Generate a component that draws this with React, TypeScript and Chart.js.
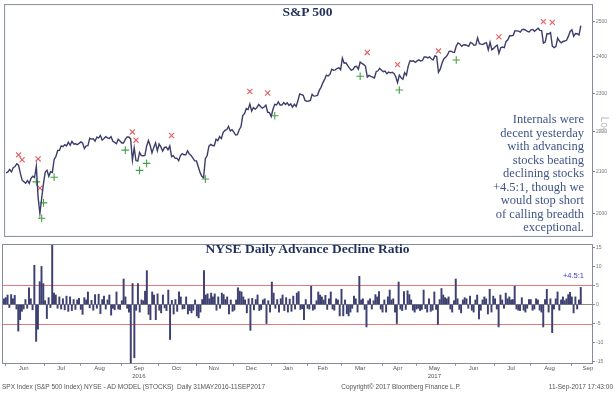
import React, { useEffect, useRef } from "react";
import { Chart, registerables } from "chart.js";

Chart.register(...registerables);

// ---------------- S&P 500 daily closes (one array per month) ----------------
const spxMay16 = [2096.95];
const spxJun16 = [2099.33, 2105.26, 2099.13, 2109.41, 2112.13, 2119.12, 2115.48, 2096.07, 2079.06, 2075.32, 2071.5, 2077.99, 2071.22, 2083.25, 2088.9, 2085.45, 2113.32, 2037.41, 2000.54, 2036.09, 2070.77, 2098.86];
const spxJul16 = [2102.95, 2088.55, 2099.73, 2097.9, 2129.9, 2137.16, 2152.14, 2152.43, 2163.75, 2161.74, 2166.89, 2163.78, 2173.02, 2165.17, 2175.03, 2168.48, 2169.18, 2166.58, 2170.06, 2173.6];
const spxAug16 = [2170.84, 2157.03, 2163.79, 2164.25, 2182.87, 2180.89, 2181.74, 2175.49, 2185.79, 2184.05, 2190.15, 2178.15, 2182.22, 2187.02, 2183.87, 2182.64, 2186.9, 2175.44, 2172.47, 2169.04, 2180.38, 2176.12, 2170.95];
const spxSep16 = [2170.86, 2179.98, 2186.48, 2186.16, 2181.3, 2127.81, 2159.04, 2127.02, 2125.77, 2147.26, 2139.16, 2139.12, 2139.76, 2163.12, 2177.18, 2164.69, 2146.1, 2159.93, 2171.37, 2151.13, 2168.27];
const spxOct16 = [2161.2, 2150.49, 2159.73, 2160.77, 2153.74, 2163.66, 2136.73, 2139.18, 2132.55, 2132.98, 2126.5, 2139.6, 2144.29, 2141.34, 2141.16, 2151.33, 2143.16, 2139.43, 2133.04, 2126.41, 2126.15];
const spxNov16 = [2111.72, 2097.94, 2088.66, 2085.18, 2131.52, 2139.56, 2163.26, 2167.48, 2164.45, 2164.2, 2180.39, 2176.94, 2187.12, 2181.9, 2198.18, 2202.94, 2204.72, 2213.35, 2201.72, 2204.66, 2198.81];
const spxDec16 = [2191.08, 2191.95, 2204.71, 2212.23, 2241.35, 2246.19, 2259.53, 2256.96, 2271.72, 2253.28, 2262.03, 2258.07, 2262.53, 2270.76, 2265.18, 2260.96, 2263.79, 2268.88, 2249.92, 2249.26, 2238.83];
const spxJan17 = [2257.83, 2270.75, 2269.0, 2276.98, 2268.9, 2268.9, 2275.32, 2270.44, 2274.64, 2267.89, 2271.89, 2263.69, 2271.31, 2265.2, 2280.07, 2298.37, 2296.68, 2294.69, 2280.9, 2278.87];
const spxFeb17 = [2279.55, 2280.85, 2297.42, 2292.56, 2293.08, 2294.67, 2307.87, 2316.1, 2328.25, 2337.58, 2349.25, 2347.22, 2351.16, 2365.38, 2362.82, 2363.81, 2367.34, 2369.75, 2363.64];
const spxMar17 = [2395.96, 2381.92, 2383.12, 2375.31, 2368.39, 2362.98, 2364.87, 2372.6, 2373.47, 2365.45, 2385.26, 2381.38, 2378.25, 2373.47, 2344.02, 2348.45, 2345.96, 2343.98, 2341.59, 2358.57, 2361.13, 2368.06, 2362.72];
const spxApr17 = [2358.84, 2360.16, 2352.95, 2357.49, 2355.54, 2357.16, 2353.78, 2344.93, 2328.95, 2349.01, 2342.19, 2338.17, 2355.84, 2348.69, 2374.15, 2388.61, 2387.45, 2388.77, 2384.2];
const spxMay17 = [2388.33, 2391.17, 2388.13, 2389.52, 2399.29, 2399.38, 2396.92, 2399.63, 2394.44, 2390.9, 2402.32, 2400.67, 2357.03, 2365.72, 2381.73, 2394.02, 2398.42, 2404.39, 2415.07, 2415.82, 2412.91, 2411.8];
const spxJun17 = [2430.06, 2439.07, 2436.1, 2429.33, 2433.14, 2433.79, 2431.77, 2429.39, 2440.35, 2437.92, 2432.46, 2433.15, 2453.46, 2437.03, 2435.61, 2434.5, 2438.3, 2439.07, 2419.38, 2440.69, 2419.7, 2423.41];
const spxJul17 = [2429.01, 2432.54, 2409.75, 2425.18, 2427.43, 2425.53, 2443.25, 2447.83, 2459.27, 2459.14, 2460.61, 2473.83, 2473.45, 2472.54, 2469.91, 2477.13, 2477.83, 2475.42, 2472.1, 2470.3];
const spxAug17 = [2476.35, 2477.57, 2472.16, 2476.83, 2480.91, 2474.92, 2474.02, 2438.21, 2441.32, 2465.84, 2464.61, 2468.11, 2430.01, 2425.55, 2428.37, 2452.51, 2444.04, 2438.97, 2443.05, 2444.24, 2446.3, 2457.59, 2471.65];
const spxSep17 = [2476.55, 2457.85, 2465.54, 2465.1, 2461.43, 2488.11];

// ---------------- NYSE advance / decline ratio (one array per month) ----------------
const adMay16 = [1.5];
const adJun16 = [1.8, 2.5, -0.8, 2.6, 1.5, 2.4, -1.2, -7.0, -4.0, -1.8, -1.2, 1.3, -1.0, 4.4, 1.5, -1.4, 10.3, -9.7, -6.5, 6.0, 10.0, 5.5];
const adJul16 = [1.0, -3.7, 1.8, -0.8, 17, 3.0, 2.5, -1.0, 2.0, -1.2, 1.5, -1.4, 2.2, -1.8, 2.0, -1.6, 1.3, -1.3, 1.2, 1.6];
const adAug16 = [-1.3, -2.6, 1.8, 1.2, 3.3, -0.9, 1.1, -1.5, 2.6, -1.0, 2.7, -2.4, 1.3, 2.2, -1.2, 1.2, 2.5, -2.8, -1.0, -1.4, 3.3, -1.2, -1.3];
const adSep16 = [1.0, 6.7, 2.0, -1.0, -2.0, -16, 5.5, -14, -1.5, 5.5, -2.0, 1.2, 1.0, 3.5, 8.9, -2.6, -4.0, 3.3, 2.5, -4.0, 2.8];
const adOct16 = [-1.5, -2.2, 2.5, -0.9, -1.6, 3.8, -9.2, 1.1, -2.5, 1.3, -1.8, 3.3, 2.0, -1.2, -1.1, 2.0, -2.5, -1.6, -2.2, -1.5, 1.2];
const adNov16 = [-3.0, -3.5, -2.0, 1.3, 8.9, 2.5, 2.8, 1.5, 3.0, 2.0, 2.8, -1.5, 2.0, -1.0, 3.0, 2.6, 1.3, 2.0, -2.5, 1.2, -1.8];
const adDec16 = [-1.5, 1.2, 4.4, 3.5, 3.3, 2.0, 1.2, -2.2, 1.5, -6.8, 1.6, -1.4, 1.3, 2.5, -1.6, -1.3, 1.2, 1.5, -5.0, 1.0, -2.0];
const adJan17 = [5.9, 3.0, -1.0, 1.3, -2.0, 1.5, 2.5, -1.6, 1.8, -2.0, 1.4, -1.8, 2.2, -1.2, 3.0, 3.4, -1.3, -1.1, -4.0, 1.3];
const adFeb17 = [-1.0, -1.2, 4.8, -1.5, -1.2, 1.0, 3.3, 2.5, 2.0, 1.2, 2.4, -1.3, 1.5, 3.3, -1.2, -1.5, 1.5, 1.2, -3.0];
const adMar17 = [4.0, -3.0, 1.2, -2.4, -3.0, -2.0, -1.0, 2.2, 1.5, -2.0, 7.4, 1.2, 1.5, -1.3, -5.9, 1.0, 1.5, -1.2, 1.0, 2.6, 2.0, 3.4, -1.2];
const adApr17 = [-2.0, 1.2, -2.0, 2.0, 3.8, 1.2, 1.5, -2.0, -5.0, 5.9, -1.2, -1.6, 3.4, -1.3, 3.6, 2.6, 1.2, -1.5, -2.0];
const adMay17 = [-1.2, -1.0, -1.6, -1.3, 3.8, -1.1, -2.0, 1.5, -1.8, -1.5, 3.3, -1.3, -5.2, 1.3, 4.2, 2.5, 1.8, 1.5, 2.0, -1.2, -2.0, 1.0];
const adJun17 = [6.7, 1.5, -1.3, -2.2, 1.2, 1.8, 1.5, -1.0, 2.2, -1.5, -2.0, 1.2, 2.5, -3.8, -1.5, 1.2, 2.0, 1.5, -2.5, 4.0, -2.0, 2.2];
const adJul17 = [1.5, -1.2, -5.9, 2.5, 1.2, -1.0, 3.0, 1.5, 2.0, 1.2, 1.3, 4.8, -1.2, -1.5, -1.6, 1.8, -1.5, -2.0, -1.0, 1.3];
const adAug17 = [1.3, -1.5, -1.2, 1.5, 1.2, -1.5, -2.0, -5.9, 1.3, 4.0, -2.0, 1.5, -7.4, -1.2, 1.5, 3.3, -1.5, 1.2, 2.0, 1.0, 1.5, 2.6, 3.2];
const adSep17 = [2.0, -2.2, 2.0, -1.2, 1.2, 4.5];

// ---------------- signal markers (trading-day index, price) ----------------
const redXIdx = [7, 9, 18, 19, 71, 73, 93, 137, 147, 203, 220, 243, 277, 302, 307];
const redXVal = [2141, 2129, 2131, 2060, 2199, 2178, 2190, 2305, 2301, 2412, 2378, 2416, 2456, 2500, 2498];
const greenIdx = [17, 20, 21, 27, 67, 75, 79, 112, 151, 199, 221, 253];
const greenVal = [2075, 1989, 2025, 2086, 2153, 2103, 2120, 2082, 2241, 2346, 2309, 2391];

// ---------------- axes ----------------
const monthLabels = ["Jun", "Jul", "Aug", "Sep", "Oct", "Nov", "Dec", "Jan", "Feb", "Mar", "Apr", "May", "Jun", "Jul", "Aug", "Sep"];
const yearLabels = ["", "", "", "2016", "", "", "", "", "", "", "", "2017", "", "", "", ""];
const sessionsSep17 = 20;
const spxTicks = [2000, 2100, 2200, 2300, 2400, 2500];
const adTicks = [-15, -10, -5, 0, 5, 10, 15];
const adBands = [5, -5];
const spxRange = [1948.6, 2548.6];
const adRange = [-15.38, 15.64];
const dayRange = [-0.56, 329.3];

const spxMonths = [spxMay16, spxJun16, spxJul16, spxAug16, spxSep16, spxOct16, spxNov16, spxDec16, spxJan17, spxFeb17, spxMar17, spxApr17, spxMay17, spxJun17, spxJul17, spxAug17, spxSep17];
const adMonths = [adMay16, adJun16, adJul16, adAug16, adSep16, adOct16, adNov16, adDec16, adJan17, adFeb17, adMar17, adApr17, adMay17, adJun17, adJul17, adAug17, adSep17];

const spxClose = spxMonths.flat();
const adRatio = adMonths.flat();
const monthStart: number[] = [];
{
  let n = 0;
  for (const m of spxMonths) {
    monthStart.push(n);
    n += m.length;
  }
}
const labelStarts = monthStart.slice(1);
const labelEnds = monthStart.slice(2).concat([monthStart[monthStart.length - 1] + sessionsSep17]);
const labelPos = labelStarts.map((s, k) => (s + labelEnds[k]) / 2 - 1);

const FRAME = "#858b9e";

const framePlugin = {
  id: "frame",
  afterDraw(chart: any) {
    const { ctx, chartArea: a } = chart;
    ctx.save();
    ctx.strokeStyle = FRAME;
    ctx.lineWidth = 1;
    ctx.strokeRect(a.left - 0.5, a.top - 0.5, a.right - a.left + 1, a.bottom - a.top + 1);
    ctx.restore();
  },
};

const bandsPlugin = {
  id: "bands",
  beforeDatasetsDraw(chart: any) {
    const { ctx, chartArea: a, scales } = chart;
    ctx.save();
    ctx.lineWidth = 1;
    const y0 = Math.round(scales.y.getPixelForValue(0)) + 0.5;
    ctx.strokeStyle = "#8a8a8a";
    ctx.beginPath();
    ctx.moveTo(a.left, y0);
    ctx.lineTo(a.right, y0);
    ctx.stroke();
    ctx.strokeStyle = "#e57a7a";
    for (const b of adBands) {
      const y = Math.round(scales.y.getPixelForValue(b)) + 0.5;
      ctx.beginPath();
      ctx.moveTo(a.left, y);
      ctx.lineTo(a.right, y);
      ctx.stroke();
    }
    ctx.restore();
  },
  afterDraw(chart: any) {
    const { ctx, chartArea: a, scales } = chart;
    ctx.save();
    ctx.strokeStyle = "#999";
    ctx.lineWidth = 1;
    for (const s of labelStarts) {
      const x = Math.round(scales.x.getPixelForValue(s - 0.5)) + 0.5;
      ctx.beginPath();
      ctx.moveTo(x, a.bottom);
      ctx.lineTo(x, a.bottom + 3);
      ctx.stroke();
    }
    ctx.restore();
  },
};

const tickFont = { size: 5, family: "Liberation Sans" };

export default function App() {
  const topRef = useRef<HTMLCanvasElement>(null);
  const botRef = useRef<HTMLCanvasElement>(null);

  useEffect(() => {
    const top = new Chart(topRef.current as HTMLCanvasElement, {
      type: "line",
      data: {
        datasets: [
          {
            data: spxClose.map((v, i) => ({ x: i, y: v })),
            borderColor: "#3b3d6a",
            borderWidth: 1.4,
            pointRadius: 0,
            tension: 0,
          },
          {
            data: redXIdx.map((x, i) => ({ x, y: redXVal[i] })),
            showLine: false,
            pointStyle: "crossRot",
            pointRadius: 3.6,
            pointBorderColor: "#e35d5d",
            pointBorderWidth: 1.1,
            borderColor: "#e35d5d",
          },
          {
            data: greenIdx.map((x, i) => ({ x, y: greenVal[i] })),
            showLine: false,
            pointStyle: "cross",
            pointRadius: 3.8,
            pointBorderColor: "#45a045",
            pointBorderWidth: 1.1,
            borderColor: "#45a045",
          },
        ],
      } as any,
      options: {
        responsive: false,
        animation: false,
        events: [],
        layout: { padding: { left: 3, top: 3, right: 0, bottom: 1 } },
        plugins: { legend: { display: false }, tooltip: { enabled: false } },
        scales: {
          x: { type: "linear", min: dayRange[0], max: dayRange[1], display: false },
          y: {
            type: "logarithmic",
            position: "right",
            min: spxRange[0],
            max: spxRange[1],
            afterBuildTicks: (s: any) => {
              s.ticks = spxTicks.map((v) => ({ value: v }));
            },
            afterFit: (s: any) => {
              s.width = 23;
            },
            ticks: { callback: (v: any) => String(v), font: tickFont, color: "#777", padding: 1, autoSkip: false },
            grid: { drawOnChartArea: false, drawTicks: true, tickLength: 3, color: "#888" },
            border: { display: false },
          },
        },
      } as any,
      plugins: [framePlugin],
    });

    const bot = new Chart(botRef.current as HTMLCanvasElement, {
      type: "bar",
      data: {
        datasets: [
          {
            data: adRatio.map((v, i) => ({ x: i, y: v })),
            backgroundColor: "#3d4070",
            borderWidth: 0,
            barThickness: 1.3,
          },
        ],
      } as any,
      options: {
        responsive: false,
        animation: false,
        events: [],
        layout: { padding: { left: 3, top: 1, right: 0, bottom: 0 } },
        plugins: { legend: { display: false }, tooltip: { enabled: false } },
        scales: {
          x: {
            type: "linear",
            min: dayRange[0],
            max: dayRange[1],
            offset: false,
            afterBuildTicks: (s: any) => {
              s.ticks = labelPos.map((v) => ({ value: v }));
            },
            afterFit: (s: any) => {
              s.height = 32;
            },
            ticks: {
              autoSkip: false,
              maxRotation: 0,
              padding: 2,
              color: "#555",
              font: { size: 6, family: "Liberation Sans", lineHeight: 1.25 },
              callback: (_v: any, i: number) => (yearLabels[i] ? [monthLabels[i], yearLabels[i]] : monthLabels[i]),
            },
            grid: { display: false, drawTicks: false, offset: false },
            border: { display: false },
          },
          y: {
            position: "right",
            min: adRange[0],
            max: adRange[1],
            afterBuildTicks: (s: any) => {
              s.ticks = adTicks.map((v) => ({ value: v }));
            },
            afterFit: (s: any) => {
              s.width = 23;
            },
            ticks: { callback: (v: any) => String(v), font: tickFont, color: "#777", padding: 1, autoSkip: false },
            grid: { drawOnChartArea: false, drawTicks: true, tickLength: 3, color: "#888" },
            border: { display: false },
          },
        },
      } as any,
      plugins: [bandsPlugin, framePlugin],
    });

    return () => {
      top.destroy();
      bot.destroy();
    };
  }, []);

  const abs: React.CSSProperties = { position: "absolute", pointerEvents: "none", whiteSpace: "nowrap" };
  const footer: React.CSSProperties = { ...abs, top: 383, fontFamily: "Liberation Sans", fontSize: 6.5, lineHeight: "8px", color: "#555" };

  return (
    <div style={{ position: "absolute", left: 0, top: 0, width: 615, height: 395, background: "#fff", overflow: "hidden" }}>
      <canvas ref={topRef} width={615} height={241} style={{ position: "absolute", left: 0, top: 0, width: 615, height: 241 }} />
      <canvas ref={botRef} width={615} height={154} style={{ position: "absolute", left: 0, top: 241, width: 615, height: 154 }} />

      <div style={{ ...abs, left: 0, top: 5, width: 615, textAlign: "center", fontFamily: "Liberation Serif", fontWeight: 700, fontSize: 13.5, lineHeight: "14px", color: "#1f2f5c" }}>
        S&amp;P 500
      </div>
      <div style={{ ...abs, left: 0, top: 242, width: 615, textAlign: "center", fontFamily: "Liberation Serif", fontWeight: 700, fontSize: 13.5, lineHeight: "14px", color: "#1f2f5c" }}>
        NYSE Daily Advance Decline Ratio
      </div>
      <div style={{ ...abs, left: 0, top: 113, width: 584, textAlign: "right", fontFamily: "Liberation Serif", fontSize: 12.5, lineHeight: "13.5px", color: "#3f5487" }}>
        Internals were
        <br />
        decent yesterday
        <br />
        with advancing
        <br />
        stocks beating
        <br />
        declining stocks
        <br />
        +4.5:1, though we
        <br />
        would stop short
        <br />
        of calling breadth
        <br />
        exceptional.
      </div>
      <div style={{ ...abs, left: 592, top: 119, width: 24, textAlign: "center", transform: "rotate(90deg)", fontFamily: "Liberation Sans", fontSize: 10, lineHeight: "12px", color: "#bdbdbd" }}>
        Log
      </div>
      <div style={{ ...abs, left: 0, top: 271, width: 584, textAlign: "right", fontFamily: "Liberation Sans", fontSize: 7.5, lineHeight: "9px", color: "#3a3ac8" }}>
        +4.5:1
      </div>
      <div style={{ ...footer, left: 2 }}>SPX Index (S&amp;P 500 Index) NYSE - AD MODEL (STOCKS)&nbsp; Daily 31MAY2016-11SEP2017</div>
      <div style={{ ...footer, left: 0, width: 802, textAlign: "center" }}>Copyright© 2017 Bloomberg Finance L.P.</div>
      <div style={{ ...footer, left: 0, width: 613, textAlign: "right" }}>11-Sep-2017 17:43:00</div>
    </div>
  );
}
